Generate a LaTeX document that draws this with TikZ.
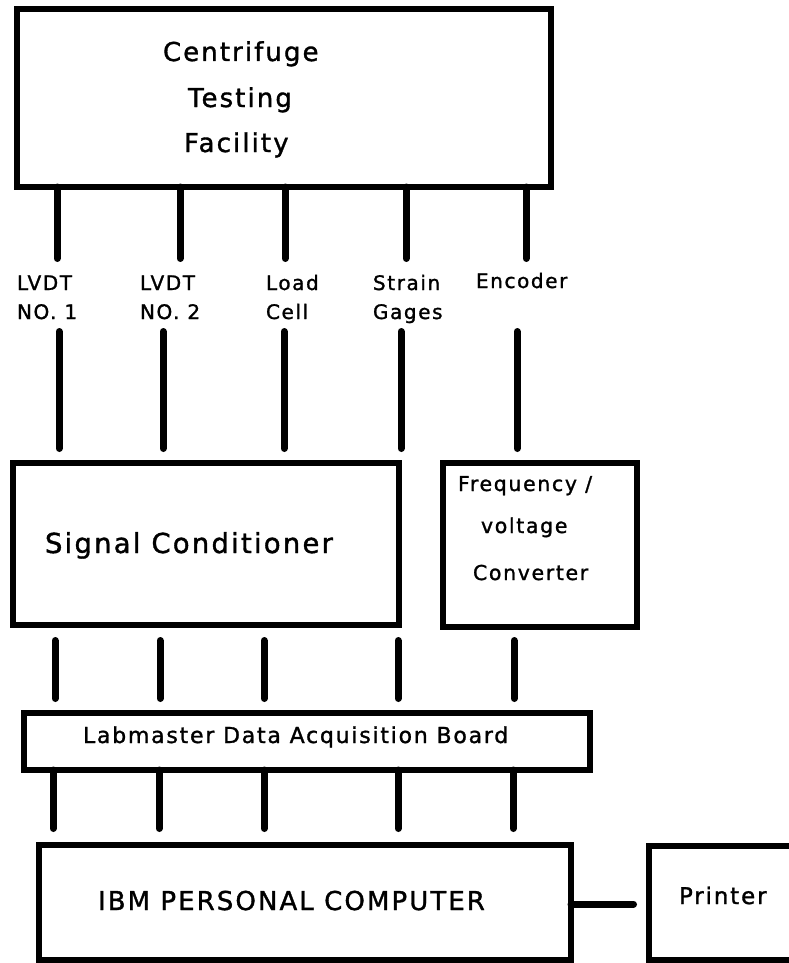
\documentclass[tikz,border=0pt]{standalone}
\usepackage{fontspec}
\setmainfont{DejaVu Sans}[LetterSpace=8,FakeBold=1.3]
\begin{document}
\begin{tikzpicture}[x=1pt,y=-1pt,
  box/.style={draw, rectangle, line width=6pt, inner sep=0pt, outer sep=0pt},
  wire/.style={line width=7pt, line cap=round},
  txt/.style={inner sep=0pt, outer sep=0pt, anchor=base west},
  big/.style={txt, font=\fontsize{26}{30}\selectfont},
  lbl/.style={txt, font=\fontsize{20}{24}\selectfont},
  mid/.style={txt, font=\fontsize{20.5}{25}\selectfont}]
\useasboundingbox (0,0) rectangle (789,963);
\clip (0,0) rectangle (789,963);
\fill[white] (0,0) rectangle (789,963);

% boxes
\node[box, minimum width=534pt, minimum height=178pt] (fac) at (284,98) {};
\node[box, minimum width=386pt, minimum height=162pt] (sig) at (206,544) {};
\node[box, minimum width=194pt, minimum height=164pt] (fvc) at (540,545) {};
\node[box, minimum width=566pt, minimum height=57pt] (lab) at (307,741.5) {};
\node[box, minimum width=532pt, minimum height=115pt] (ibm) at (305,902.5) {};
\node[box, minimum width=151pt, minimum height=114pt] (prn) at (724.5,903) {};

% texts
\node[big] (t1) at (163,61) {Centrifuge};
\node[big] (t2) at (188,107) {Testing};
\node[big] (t3) at (184,152) {Facility};
\node[lbl] (l1a) at (17,290) {LVDT};
\node[lbl] (l1b) at (17,319) {NO. 1};
\node[lbl] (l2a) at (140,290) {LVDT};
\node[lbl] (l2b) at (140,319) {NO. 2};
\node[lbl] (l3a) at (266,290) {Load};
\node[lbl] (l3b) at (266,319) {Cell};
\node[lbl] (l4a) at (373,290) {Strain};
\node[lbl] (l4b) at (373,319) {Gages};
\node[lbl] (l5a) at (476,288) {Encoder};
\node[big, font=\fontsize{27.5}{31}\selectfont] (sigt) at (45,553) {Signal Conditioner};
\node[mid] (f1) at (458,491) {Frequency /};
\node[mid] (f2) at (481,533) {voltage};
\node[mid] (f3) at (473,580) {Converter};
\node[mid, font=\fontsize{22}{26}\selectfont] (labt) at (83,743) {Labmaster Data Acquisition Board};
\node[big] (ibmt) at (98,910) {IBM PERSONAL COMPUTER};
\node[mid, font=\fontsize{23}{27}\selectfont] (prnt) at (679,904) {Printer};

% connector end points
\foreach \i/\x in {1/57,2/180,3/285,4/406,5/526}
  \coordinate (u\i) at (\x,258.5);
\foreach \i/\x in {1/59,2/163,3/284,4/401,5/517}{
  \coordinate (s\i) at (\x,331.5);
  \coordinate (e\i) at (\x,448.5);}
\foreach \i/\x in {1/55,2/160,3/264,4/398,5/514}{
  \coordinate (m\i) at (\x,640.5);
  \coordinate (n\i) at (\x,698.5);}
\foreach \i/\x in {1/53,2/159,3/264,4/398,5/513}
  \coordinate (b\i) at (\x,828.5);
\coordinate (pc) at (633.5,904);

% connectors
\foreach \i in {1,...,5}{
  \draw[wire] (u\i |- fac.south) -- (u\i);
  \draw[wire] (s\i) -- (e\i);
  \draw[wire] (m\i) -- (n\i);
  \draw[wire] (b\i |- lab.south) -- (b\i);}
\draw[wire] (pc -| ibm.east) -- (pc);
\end{tikzpicture}
\end{document}
